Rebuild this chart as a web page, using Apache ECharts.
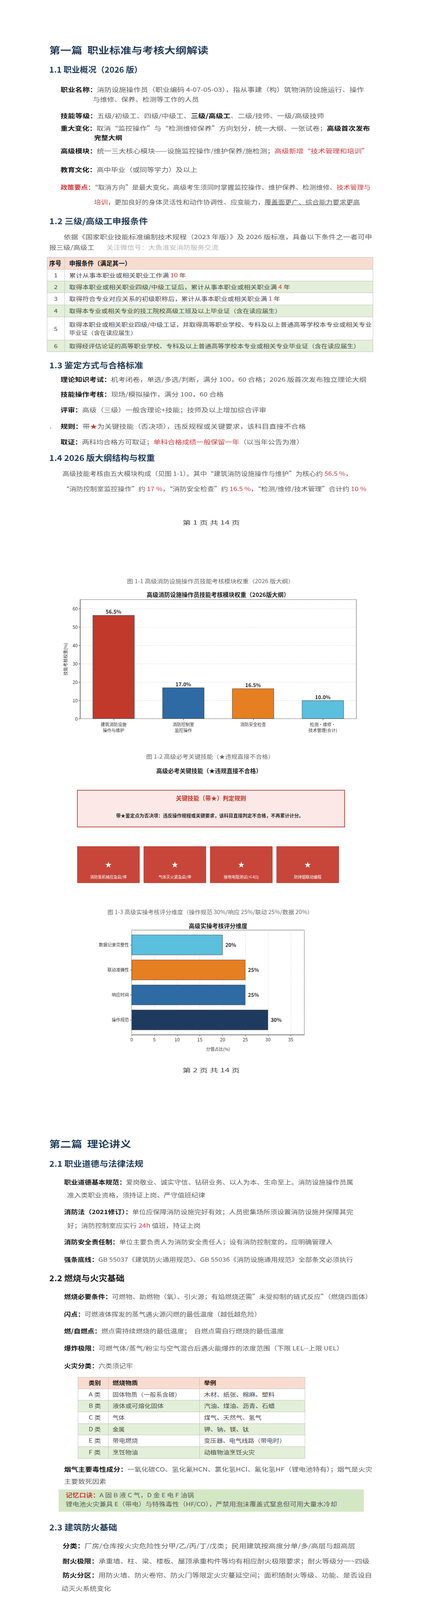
<!DOCTYPE html>
<html><head><meta charset="utf-8">
<script src="https://cdn.jsdelivr.net/npm/echarts@6/dist/echarts.min.js"></script>
<style>
html,body{margin:0;padding:0;background:#fff;}
#page{position:relative;width:1080px;height:4193px;overflow:hidden;background:#fff;}
#chart{position:absolute;left:0;top:0;width:1080px;height:4193px;z-index:0;}
.t{position:absolute;white-space:nowrap;font-family:"Noto Sans CJK SC","Noto Sans",sans-serif;transform-origin:0 50%;color:#5a5a5a;z-index:2;}
.h0{font-size:23px;font-weight:bold;color:#1f3a5a;}
.h1{font-size:20px;font-weight:bold;color:#1f3a5a;}
.dk{color:#1a1a1a;}
.b{font-size:15px;}
.b b{color:#141414;}
.tb{font-size:14px;color:#4a4a4a;}
.tb b{color:#141414;}
.th{font-size:16px;color:#141414;font-weight:bold;}
.cap{font-size:14px;color:#666;}
.foot{font-size:14px;color:#444;}
.r{color:#d0353a !important;}
.gray{color:#b2b2b2;}
u{text-decoration:underline;}
.bx{position:absolute;box-sizing:border-box;z-index:1;}
</style></head>
<body>
<div id="page"><div id="chart"></div></div>
<script>
// ---------- chart data ----------
const modules = ['建筑消防设施\n操作与维护', '消防控制室\n监控操作', '消防安全检查', '检测·维修·\n技术管理(合计)'];
const moduleWeights = [56.5, 17.0, 16.5, 10.0];
const moduleColors = ['#c0392b', '#2e6aa3', '#e67e22', '#5bbfde'];
const weightAxisMax = 65;
const weightInterval = 10;

const keySkills = ['消防泵机械应急启/停', '气体灭火紧急启/停', '接地电阻测试(≤4Ω)', '防排烟联动编程'];

const dims = ['操作规范', '响应时间', '联动准确性', '数据记录完整性'];
const dimScores = [30, 25, 25, 20];
const dimColors = ['#1f3a5f', '#2e6aa3', '#e67e22', '#5bbfde'];
const scoreAxisMax = 38;
const scoreInterval = 5;

// ---------- document text ----------
const docLines = [
 [126,128,407,'h0','第一篇&nbsp;&nbsp;职业标准与考核大纲解读'],
 [126,179,238,'h1','1.1 职业概况（2026 版）'],
 [155,230,777,'b','<b>职业名称：</b>消防设施操作员（职业编码 4-07-05-03），指从事建（构）筑物消防设施运行、操作'],
 [238,255,271,'b','与维修、保养、检测等工作的人员'],
 [155,297,674,'b','<b>技能等级：</b>五级/初级工、四级/中级工、<b>三级/高级工</b>、二级/技师、一级/高级技师'],
 [155,329,792,'b','<b>重大变化：</b>取消“监控操作”与“检测维修保养”方向划分，统一大纲、一张试卷；<b>高级首次发布</b>'],
 [241,353,72,'b','<b>完整大纲</b>'],
 [155,387,789,'b','<b>高级模块：</b>统一三大核心模块——设施监控操作/维护保养/施检测；<span class="r">高级新增“技术管理和培训”</span>'],
 [155,435,350,'b','<b>教育文化：</b>高中毕业（或同等学力）及以上'],
 [155,480,794,'b','<b class="r">政策要点：</b>“取消方向”是最大变化，高级考生须同时掌握监控操作、维护保养、检测维修、<span class="r">技术管理与</span>'],
 [241,518,680,'b','<span class="r">培训</span>，更加良好的身体灵活性和动作协调性、应变能力，<u>覆盖面更广、综合能力要求更高</u>'],
 [126,567,252,'h1','1.2 三级/高级工申报条件'],
 [163,607,789,'b','依据《国家职业技能标准编制技术规程（2023 年版）》及 2026 版标准，具备以下条件之一者可申'],
 [126,634,116,'b','报三级/高级工'],
 [272,634,287,'b gray','关注微信号：大鱼淮安消防服务交流'],
 // table 1
 [126,674,31,'th','序号'],
 [177,674,158,'th','申报条件（满足其一）'],
 [138,705,0,'tb','1'],
 [177,705,299,'tb','累计从事本职业或相关职业工作满 <span class="r">10</span> 年'],
 [138,735,0,'tb','2'],
 [177,735,566,'tb','取得本职业或相关职业四级/中级工证后，累计从事本职业或相关职业满 <span class="r">4</span> 年'],
 [138,765,0,'tb','3'],
 [177,765,540,'tb','取得符合专业对应关系的初级职称后，累计从事本职业或相关职业满 <span class="r">1</span> 年'],
 [138,796,0,'tb','4'],
 [177,796,543,'tb','取得本专业或相关专业的技工院校高级工班及以上毕业证（含在读应届生）'],
 [138,842,0,'tb','5'],
 [177,831,775,'tb','取得本职业或相关职业四级/中级工证，并取得高等职业学校、专科及以上普通高等学校本专业或相关专业'],
 [177,852,173,'tb','毕业证（含在读应届生）'],
 [138,886,0,'tb','6'],
 [177,886,744,'tb','取得经评估论证的高等职业学校、专科及以上普通高等学校本专业或相关专业毕业证（含在读应届生）'],
 [126,936,241,'h1','1.3 鉴定方式与合格标准'],
 [155,972,783,'b','<b>理论知识考试：</b>机考闭卷，单选/多选/判断，满分 100，60 合格；2026 版首次发布独立理论大纲'],
 [155,1010,417,'b','<b>技能操作考核：</b>现场/模拟操作，满分 100，60 合格'],
 [155,1050,526,'b','<b>评审：</b>高级（三级）一般含理论+技能；技师及以上增加综合评审'],
 [127,1092,0,'b','.'],
 [155,1092,628,'b','<b>规则：</b>带<span class="r">★</span>为关键技能（否决项），违反规程或关键要求，该科目直接不合格'],
 [155,1132,622,'b','<b>取证：</b>两科均合格方可取证；<span class="r">单科合格成绩一般保留一年</span>（以当年公告为准）'],
 [126,1173,270,'h1','1.4 2026 版大纲结构与权重'],
 [160,1213,741,'b','高级技能考核由五大模块构成（见图 1-1）。其中“建筑消防设施操作与维护”为核心约 <span class="r">56.5 %</span>，'],
 [160,1252,778,'b','“消防控制室监控操作”约 <span class="r">17 %</span>，“消防安全检查”约 <span class="r">16.5 %</span>，“检测/维修/技术管理”合计约 <span class="r">10 %</span>'],
 [467,1338,147,'foot','第 1 页 共 14 页'],
 [325,1488,428,'cap','图 1-1 高级消防设施操作员技能考核模块权重（2026 版大纲）'],
 [374,1937,328,'cap','图 1-2 高级必考关键技能（★违规直接不合格）'],
 [275,2335,526,'cap','图 1-3 高级实操考核评分维度（操作规范 30%/响应 25%/联动 25%/数据 20%）'],
 [467,2740,147,'foot','第 2 页 共 14 页'],
 [126,2928,209,'h0','第二篇&nbsp;&nbsp;理论讲义'],
 [126,2980,241,'h1','2.1 职业道德与法律法规'],
 [164,3027,740,'b','<b>职业道德基本规范：</b>爱岗敬业、诚实守信、钻研业务、以人为本、生命至上。消防设施操作员属'],
 [172,3060,353,'b','准入类职业资格，须持证上岗、严守值班纪律'],
 [164,3103,740,'b','<b>消防法（2021修订）：</b>单位应保障消防设施完好有效；人员密集场所须设置消防设施并保障其完'],
 [172,3138,342,'b','好；消防控制室应实行 <span class="r">24h</span> 值班，持证上岗'],
 [164,3180,687,'b','<b>消防安全责任制：</b>单位主要负责人为消防安全责任人；设有消防控制室的，应明确管理人'],
 [164,3225,740,'b','<b>强条底线：</b>GB 55037《建筑防火通用规范》、GB 55036《消防设施通用规范》全部条文必须执行'],
 [126,3273,193,'h1 dk','2.2 燃烧与火灾基础'],
 [164,3320,788,'b','<b>燃烧必要条件：</b>可燃物、助燃物（氧）、引火源；有焰燃烧还需”未受抑制的链式反应”（燃烧四面体）'],
 [164,3365,504,'b','<b>闪点：</b>可燃液体挥发的蒸气遇火源闪燃的最低温度（越低越危险）'],
 [164,3408,563,'b','<b>燃/自燃点：</b>燃点需持续燃烧的最低温度；&nbsp;&nbsp;自燃点需自行燃烧的最低温度'],
 [164,3452,715,'b','<b>爆炸极限：</b>可燃气体/蒸气/粉尘与空气混合后遇火能爆炸的浓度范围（下限 LEL--上限 UEL）'],
 [164,3497,176,'b','<b>火灾分类：</b>六类须记牢'],
 // table 2
 [227,3540,31,'tb','<b>类别</b>'],
 [288,3540,65,'tb','<b>燃烧物质</b>'],
 [522,3540,31,'tb','<b>举例</b>'],
 [227,3570,31,'tb','A 类'],[288,3570,175,'tb','固体物质（一般系含碳）'],[522,3570,181,'tb','木材、纸张、棉麻、塑料'],
 [227,3599,31,'tb','B 类'],[288,3599,131,'tb','液体或可熔化固体'],[522,3599,181,'tb','汽油、煤油、沥青、石蜡'],
 [227,3629,31,'tb','C 类'],[288,3629,31,'tb','气体'],[522,3629,147,'tb','煤气、天然气、氢气'],
 [227,3659,31,'tb','D 类'],[288,3659,31,'tb','金属'],[522,3659,115,'tb','钾、钠、镁、钛'],
 [227,3688,31,'tb','E 类'],[288,3688,65,'tb','带电燃烧'],[522,3688,209,'tb','变压器、电气线路（带电时）'],
 [227,3718,31,'tb','F 类'],[288,3718,65,'tb','烹饪物油'],[522,3718,130,'tb','动植物油烹饪火灾'],
 [164,3762,789,'b','<b>烟气主要毒性成分：</b>一氧化碳CO、氢化氰HCN、氯化氢HCl、氟化氢HF（锂电池特有）；烟气是火灾'],
 [164,3793,108,'b','主要致死因素'],
 [168,3828,329,'b','<b class="r">记忆口诀：</b>A 固 B 液 C 气，D 金 E 电 F 油锅'],
 [168,3851,695,'b','锂电池火灾兼具 E（带电）与特殊毒性（HF/CO），严禁用泡沫覆盖式窒息但可用大量水冷却'],
 [126,3911,174,'h1','2.3 建筑防火基础'],
 [160,3958,749,'b','<b>分类：</b>厂房/仓库按火灾危险性分甲/乙/丙/丁/戊类；民用建筑按高度分单/多/高层与超高层'],
 [160,3997,785,'b','<b>耐火极限：</b>承重墙、柱、梁、楼板、屋顶承重构件等均有相应耐火极限要求；耐火等级分一~四级'],
 [160,4033,792,'b','<b>防火分区：</b>用防火墙、防火卷帘、防火门等限定火灾蔓延空间；面积随耐火等级、功能、是否设自'],
 [157,4067,127,'b','动灭火系统变化'],
 [467,4133,147,'foot','第 3 页 共 14 页']
];

const page = document.getElementById('page');
function box(x, y, w, h, bg, bc) {
  const d = document.createElement('div');
  d.className = 'bx';
  d.style.cssText += 'left:' + x + 'px;top:' + y + 'px;width:' + w + 'px;height:' + h + 'px;background:' + bg + ';' + (bc ? 'border:1px solid ' + bc + ';' : '');
  page.appendChild(d);
}
function table(x0, x1, cols, rows, fills, bc) {
  for (let i = 0; i < rows.length - 1; i++) {
    box(x0, rows[i], x1 - x0, rows[i + 1] - rows[i] + 1, fills[i], bc);
  }
  cols.forEach(c => box(c, rows[0], 1, rows[rows.length - 1] - rows[0], bc));
}
const G = '#e3efd8', H = '#f8dcd0', W = '#ffffff';
table(120, 955, [165], [658, 689, 719, 749, 780, 811, 870, 900], [H, W, G, W, G, W, G], '#c3c3c3');
table(199, 781, [277, 510], [3525, 3555, 3584, 3614, 3644, 3673, 3703, 3733], [H, W, G, W, G, W, G], '#c3c3c3');
box(150, 3813, 781, 57, '#d4e7c5', null);

for (const [x, y, w, cls, html] of docLines) {
  const d = document.createElement('div');
  d.className = 't ' + cls;
  d.innerHTML = html;
  page.appendChild(d);
  const fs = parseFloat(getComputedStyle(d).fontSize);
  const lh = Math.round(fs * 1.3);
  d.style.lineHeight = lh + 'px';
  d.style.left = x + 'px';
  d.style.top = (y - lh / 2 - fs * 0.06) + 'px';
  const nat = d.offsetWidth;
  const s = w ? w / nat : 1.2;
  d.style.transform = 'scaleX(' + s.toFixed(4) + ')';
}

// ---------- charts ----------
const FONT = '"Noto Sans CJK SC", "Noto Sans", sans-serif';
const axisGray = '#444';
const chart = echarts.init(document.getElementById('chart'), null, { renderer: 'canvas' });

function cardItem(params, api) {
  const idx = api.value(0);
  const top = api.coord([idx, 1]);
  const bot = api.coord([idx, 0]);
  const bw = api.size([1, 0])[0] * 0.935;
  const h = bot[1] - top[1];
  return {
    type: 'group',
    children: [
      { type: 'rect', shape: { x: top[0] - bw / 2, y: top[1], width: bw, height: h },
        style: { fill: '#c8453a', stroke: '#a9382f', lineWidth: 1 } },
      { type: 'text', x: top[0], y: top[1] + h * 0.5,
        style: { text: '★', fill: '#ffffff', font: 'bold 17px ' + FONT, align: 'center', verticalAlign: 'middle', textAlign: 'center', textVerticalAlign: 'middle' } },
      { type: 'text', x: top[0], y: bot[1] - 15,
        style: { text: keySkills[idx], fill: '#ffffff', font: '10px ' + FONT, align: 'center', verticalAlign: 'middle', textAlign: 'center', textVerticalAlign: 'middle' } }
    ]
  };
}

function gText(x, y, text, font, fill) {
  return { type: 'text', x: x, y: y, z: 10,
    style: { text: text, font: font, fill: fill, align: 'center', verticalAlign: 'middle', textAlign: 'center', textVerticalAlign: 'middle' } };
}

const option = {
  animation: false,
  textStyle: { fontFamily: FONT },
  grid: [
    { left: 205, top: 1535, width: 707, height: 305, show: true, borderColor: '#555', borderWidth: 1, backgroundColor: 'rgba(0,0,0,0)' },
    { left: 201.5, top: 1535, width: 714, height: 305 },
    { left: 337, top: 2381, width: 442, height: 268, show: true, borderColor: '#555', borderWidth: 1, backgroundColor: 'rgba(0,0,0,0)' },
    { left: 337, top: 2387, width: 442, height: 256 },
    { left: 192.5, top: 2167, width: 680, height: 93 }
  ],
  xAxis: [
    { gridIndex: 0, type: 'value', min: 0, max: 1, show: false },
    { gridIndex: 1, type: 'category', data: modules,
      axisLine: { show: false },
      axisTick: { show: true, alignWithLabel: true, length: 4, lineStyle: { color: axisGray } },
      axisLabel: { interval: 0, fontSize: 11, color: '#333', margin: 7, lineHeight: 15, fontFamily: FONT } },
    { gridIndex: 2, type: 'value', min: 0, max: scoreAxisMax, interval: scoreInterval,
      axisLine: { show: true, lineStyle: { color: axisGray } },
      axisTick: { show: true, length: 4, lineStyle: { color: axisGray } },
      axisLabel: { fontSize: 12, color: '#333', margin: 6, showMaxLabel: false, fontFamily: FONT },
      splitLine: { show: true, lineStyle: { color: '#dcdcdc', type: 'dashed' } },
      name: '分值占比(%)', nameLocation: 'middle', nameGap: 31,
      nameTextStyle: { fontSize: 11, color: '#333', fontFamily: FONT } },
    { gridIndex: 3, type: 'value', min: 0, max: scoreAxisMax, show: false },
    { gridIndex: 4, type: 'category', data: keySkills, show: false }
  ],
  yAxis: [
    { gridIndex: 0, type: 'value', min: 0, max: weightAxisMax, interval: weightInterval,
      axisLine: { show: true, lineStyle: { color: axisGray } },
      axisTick: { show: true, length: 4, lineStyle: { color: axisGray } },
      axisLabel: { fontSize: 12, color: '#333', margin: 6, showMaxLabel: false, fontFamily: FONT },
      splitLine: { show: true, lineStyle: { color: '#dcdcdc', type: 'dashed' } },
      name: '技能考核权重(%)', nameLocation: 'middle', nameGap: 32,
      nameTextStyle: { fontSize: 11, color: '#333', fontFamily: FONT } },
    { gridIndex: 1, type: 'value', min: 0, max: weightAxisMax, show: false },
    { gridIndex: 2, type: 'value', min: 0, max: 1, show: false },
    { gridIndex: 3, type: 'category', data: dims,
      axisLine: { show: false },
      axisTick: { show: true, alignWithLabel: true, length: 4, lineStyle: { color: axisGray } },
      axisLabel: { fontSize: 11, color: '#333', margin: 7, fontFamily: FONT } },
    { gridIndex: 4, type: 'value', min: 0, max: 1, show: false }
  ],
  series: [
    { type: 'bar', xAxisIndex: 1, yAxisIndex: 1, barWidth: '60%',
      data: moduleWeights.map((v, i) => ({ value: v, itemStyle: { color: moduleColors[i] } })),
      itemStyle: { borderColor: '#333', borderWidth: 0.8 },
      label: { show: true, position: 'top', distance: 2, formatter: p => p.value.toFixed(1) + '%',
        fontSize: 13, fontWeight: 'bold', color: '#222', fontFamily: FONT } },
    { type: 'bar', xAxisIndex: 3, yAxisIndex: 3, barWidth: 52,
      data: dimScores.map((v, i) => ({ value: v, itemStyle: { color: dimColors[i] } })),
      itemStyle: { borderColor: '#333', borderWidth: 0.8 },
      label: { show: true, position: 'right', distance: 7, formatter: '{c}%',
        fontSize: 13, fontWeight: 'bold', color: '#222', fontFamily: FONT } },
    { type: 'custom', xAxisIndex: 4, yAxisIndex: 4,
      data: keySkills.map((s, i) => [i, 1]),
      renderItem: cardItem }
  ],
  graphic: [
    gText(558, 1522, '高级消防设施操作员技能考核模块权重（2026版大纲）', 'bold 15px ' + FONT, '#222'),
    gText(535, 1973, '高级必考关键技能（★违规直接不合格）', 'bold 15px ' + FONT, '#222'),
    { type: 'rect', shape: { x: 198, y: 2023, width: 684, height: 94 }, z: 1,
      style: { fill: '#fce9e7', stroke: '#c0504d', lineWidth: 2 } },
    gText(540, 2043, '关键技能（带★）判定规则', 'bold 15px ' + FONT, '#c0392b'),
    gText(537, 2088, '带★鉴定点为否决项：违反操作规程或关键要求，该科目直接判定不合格，不再累计计分。', 'bold 12px ' + FONT, '#2a2a2a'),
    gText(558, 2370, '高级实操考核评分维度', 'bold 15px ' + FONT, '#222')
  ]
};
chart.setOption(option);
</script>
</body></html>
